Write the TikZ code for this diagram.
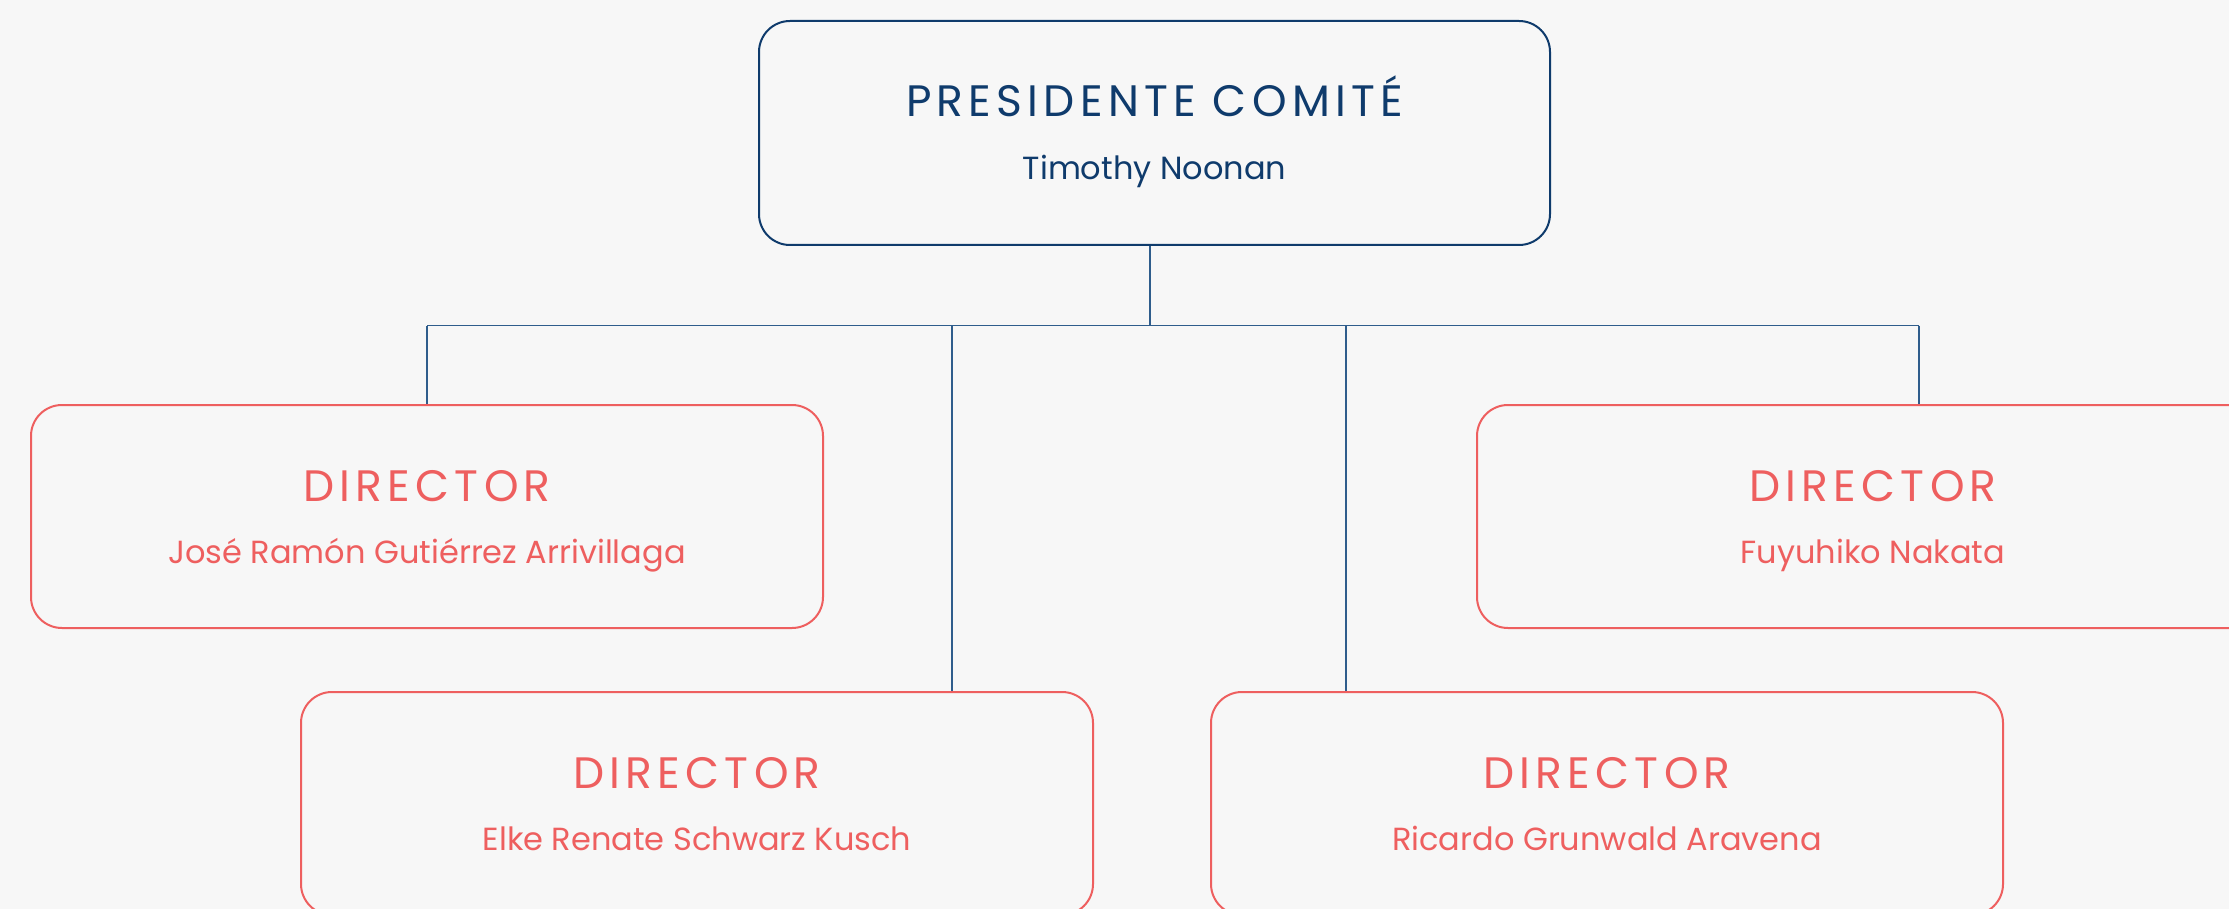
\documentclass[tikz,border=0pt]{standalone}
\usepackage{fontspec}
\setmainfont{Poppins}
\newfontfamily\rolefont[LetterSpace=12]{Poppins}
\usetikzlibrary{positioning}

\definecolor{navy}{HTML}{0F3B6C}
\definecolor{coral}{HTML}{EE5F5F}
\definecolor{linkblue}{HTML}{2F5D8C}
\definecolor{paper}{HTML}{F7F7F7}

\begin{document}
\begin{tikzpicture}[
	x=1pt, y=-1pt,
	chair/.style={draw=navy, line width=2pt, rounded corners=31pt,
		minimum width=791pt, minimum height=224pt, inner sep=0pt},
	dirbox/.style={draw=coral, line width=2pt, rounded corners=31pt,
		minimum width=792pt, minimum height=223pt, inner sep=0pt},
	role/.style={anchor=base, inner sep=0pt, font=\rolefont\fontsize{44}{44}\selectfont},
	who/.style={anchor=base, inner sep=0pt, font=\fontsize{32}{32}\selectfont},
	link/.style={draw=linkblue, line width=1.2pt}
]
\path[use as bounding box, fill=paper] (0,0) rectangle (2229,909);
\clip (0,0) rectangle (2229,909);

% boxes
\node[chair]  (pres) at (1154.5,133) {};
\node[dirbox] (d1) at (427,516.5) {};
\node[dirbox] (d2) at (1873,516.5) {};
\node[dirbox] (d3) at (697,803.5) {};
\node[dirbox] (d4) at (1607,803.5) {};

% texts
\node[role,text=navy] (prest) at ([yshift=-97pt]pres.north) {PRESIDENTE COMITÉ};
\node[who,text=navy]  (presn) at ([yshift=-160pt]pres.north) {Timothy Noonan};
\node[role,text=coral] (d1t) at ([yshift=-97pt]d1.north) {DIRECTOR};
\node[who,text=coral]  (d1n) at ([yshift=-159pt]d1.north) {José Ramón Gutiérrez Arrivillaga};
\node[role,text=coral] (d2t) at ([yshift=-97pt]d2.north) {DIRECTOR};
\node[who,text=coral]  (d2n) at ([yshift=-159pt]d2.north) {Fuyuhiko Nakata};
\node[role,text=coral] (d3t) at ([yshift=-97pt]d3.north) {DIRECTOR};
\node[who,text=coral]  (d3n) at ([yshift=-159pt]d3.north) {Elke Renate Schwarz Kusch};
\node[role,text=coral] (d4t) at ([yshift=-97pt]d4.north) {DIRECTOR};
\node[who,text=coral]  (d4n) at ([yshift=-159pt]d4.north) {Ricardo Grunwald Aravena};

% connectors
\coordinate (top) at (1150,325.5);
\coordinate (j1) at (952,325.5);
\coordinate (j2) at (1346,325.5);
\coordinate (j3) at (1919,325.5);
\draw[link] (top |- pres.south) -- (top);
\draw[link] (d1.north |- top) -- (j3);
\draw[link] (d1.north |- top) -- (d1.north);
\draw[link] (j3) -- (j3 |- d2.north);
\draw[link] (j1) -- (j1 |- d3.north);
\draw[link] (j2) -- (j2 |- d4.north);
\end{tikzpicture}
\end{document}
